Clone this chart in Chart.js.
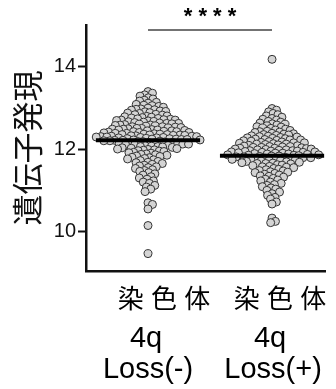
<!DOCTYPE html>
<html>
<head>
<meta charset="utf-8">
<script src="https://cdn.jsdelivr.net/npm/chart.js@4.4.1/dist/chart.umd.min.js"></script>
<style>
  html, body { margin: 0; padding: 0; background: #fff; }
  canvas { display: block; }
</style>
</head>
<body>
<canvas id="c" width="336" height="389"></canvas>
<script>
// Group labels (one entry per text line)
const groupLabels = [
  ['染 色 体', '4q', 'Loss(-)'],
  ['染 色 体', '4q', 'Loss(+)']
];
const groupPositions = [1, 2];

// Expression values per sample
const lossNegative = [
  13.39, 13.35, 13.31, 13.28,
  13.24, 13.21, 13.18, 13.16,
  13.13, 13.11, 13.08, 13.06, 13.05,
  13.03, 13.01, 12.99, 12.97, 12.96, 12.95,
  12.94, 12.92, 12.91, 12.90, 12.88, 12.87, 12.86,
  12.84, 12.83, 12.82, 12.80, 12.79, 12.78, 12.77, 12.76,
  12.75, 12.74, 12.73, 12.72, 12.71, 12.70, 12.70, 12.69, 12.68, 12.67, 12.66,
  12.65, 12.64, 12.63, 12.62, 12.62, 12.61, 12.60, 12.59, 12.58, 12.58, 12.57, 12.56,
  12.55, 12.54, 12.54, 12.53, 12.52, 12.51, 12.50, 12.50, 12.49, 12.48, 12.48, 12.47, 12.46, 12.46,
  12.45, 12.44, 12.44, 12.43, 12.42, 12.42, 12.41, 12.40, 12.40, 12.39, 12.38, 12.38, 12.37, 12.36, 12.36,
  12.35, 12.35, 12.34, 12.34, 12.33, 12.33, 12.32, 12.32, 12.31, 12.31, 12.30, 12.30, 12.29, 12.29, 12.28, 12.28, 12.27, 12.27, 12.26,
  12.25, 12.25, 12.24, 12.24, 12.23, 12.23, 12.22, 12.22, 12.21, 12.21, 12.20, 12.20, 12.19, 12.18, 12.18, 12.17, 12.16, 12.16,
  12.15, 12.14, 12.14, 12.13, 12.12, 12.12, 12.11, 12.10, 12.09, 12.08, 12.07, 12.06, 12.06,
  12.05, 12.04, 12.03, 12.02, 12.01, 12.00, 11.99, 11.98, 11.97, 11.96,
  11.95, 11.94, 11.92, 11.91, 11.90, 11.88, 11.87, 11.86,
  11.85, 11.83, 11.82, 11.80, 11.79, 11.77, 11.76,
  11.74, 11.72, 11.70, 11.68, 11.67, 11.65,
  11.63, 11.61, 11.59, 11.57, 11.55,
  11.53, 11.50, 11.48, 11.46,
  11.43, 11.40, 11.37,
  11.33, 11.30, 11.27,
  11.23, 11.20, 11.17,
  11.12, 11.08,
  11.03, 10.97,
  10.70, 10.66,
  10.55,
  10.15,
  9.47
];

const lossPositive = [
  14.17,
  12.98, 12.94, 12.90,
  12.86, 12.83, 12.80,
  12.77, 12.74, 12.72, 12.70,
  12.67, 12.65, 12.63, 12.61, 12.60,
  12.58, 12.56, 12.54, 12.53, 12.51, 12.50,
  12.48, 12.46, 12.45, 12.43, 12.42, 12.41, 12.40, 12.38,
  12.37, 12.36, 12.35, 12.34, 12.33, 12.32, 12.31, 12.30, 12.29, 12.28,
  12.27, 12.26, 12.25, 12.24, 12.23, 12.22, 12.22, 12.21, 12.20, 12.19, 12.18, 12.17,
  12.16, 12.15, 12.15, 12.14, 12.13, 12.12, 12.12, 12.11, 12.10, 12.09, 12.08, 12.07, 12.06, 12.06,
  12.05, 12.04, 12.04, 12.03, 12.02, 12.02, 12.01, 12.00, 12.00, 11.99, 11.98, 11.98, 11.97, 11.96, 11.96,
  11.95, 11.95, 11.94, 11.93, 11.93, 11.92, 11.92, 11.91, 11.90, 11.90, 11.89, 11.88, 11.88, 11.87, 11.86, 11.86, 11.85, 11.85,
  11.84, 11.83, 11.83, 11.82, 11.81, 11.81, 11.80, 11.79, 11.79, 11.78, 11.77, 11.77, 11.76, 11.75, 11.75,
  11.74, 11.73, 11.72, 11.71, 11.70, 11.69, 11.68, 11.67, 11.66, 11.65, 11.65,
  11.64, 11.62, 11.61, 11.60, 11.58, 11.57, 11.56, 11.55,
  11.53, 11.51, 11.50, 11.48, 11.47, 11.45, 11.44,
  11.43, 11.41, 11.39, 11.37, 11.35, 11.34,
  11.32, 11.29, 11.27, 11.25, 11.23,
  11.20, 11.17, 11.14, 11.12,
  11.09, 11.06, 11.03,
  11.00, 10.96,
  10.92, 10.88,
  10.83, 10.79,
  10.72, 10.67,
  10.33,
  10.25, 10.22
];

// Horizontal summary line per group
const centerLines = [12.21, 11.84];

const yTicks = [10, 12, 14];
const significance = '* * * *';

const latinFont = "'Liberation Sans', Arial, 'Noto Sans CJK JP', sans-serif";
const cjkFont = "'Noto Sans CJK JP', sans-serif";
const DOT_R = 4;
const SWARM_GAP = 4.75; // minimum centre distance used for the swarm layout (px)
const LINE_HALF = 0.42;

// Category labels under the x axis: font, baseline below the axis, sideways nudge per group
const labelLines = [
  { font: '26px ' + latinFont, dy: 37, dx: [16, 8] },
  { font: '29px ' + latinFont, dy: 76, dx: [-2, -2] },
  { font: '29px ' + latinFont, dy: 107, dx: [0, 1] }
];

const annotationPlugin = {
  id: 'annotations',
  afterDraw(chart) {
    const { ctx, scales, chartArea } = chart;
    const x1 = scales.x.getPixelForValue(groupPositions[0]);
    const x2 = scales.x.getPixelForValue(groupPositions[1]);
    ctx.save();
    // significance bracket
    const y = chartArea.top + 5;
    ctx.strokeStyle = '#444';
    ctx.lineWidth = 1.3;
    ctx.beginPath();
    ctx.moveTo(x1, y);
    ctx.lineTo(x2, y);
    ctx.stroke();
    ctx.fillStyle = '#000';
    ctx.font = 'bold 22px ' + latinFont;
    ctx.textAlign = 'center';
    ctx.textBaseline = 'alphabetic';
    ctx.fillText(significance, (x1 + x2) / 2, y - 7);
    // group labels
    groupLabels.forEach((lines, g) => {
      const cx = scales.x.getPixelForValue(groupPositions[g]);
      lines.forEach((txt, i) => {
        const spec = labelLines[i];
        ctx.font = spec.font;
        ctx.fillText(txt, cx + spec.dx[g], chartArea.bottom + spec.dy);
      });
    });
    ctx.restore();
  }
};

function pointData(values, pos) {
  return values.map(v => ({ x: pos, y: v }));
}

const chart = new Chart(document.getElementById('c'), {
  type: 'scatter',
  data: {
    datasets: [
      {
        type: 'line',
        data: [
          { x: groupPositions[0] - LINE_HALF, y: centerLines[0] },
          { x: groupPositions[0] + LINE_HALF, y: centerLines[0] }
        ],
        borderColor: '#000', borderWidth: 4, pointRadius: 0, fill: false, order: 0
      },
      {
        type: 'line',
        data: [
          { x: groupPositions[1] - LINE_HALF, y: centerLines[1] },
          { x: groupPositions[1] + LINE_HALF, y: centerLines[1] }
        ],
        borderColor: '#000', borderWidth: 4, pointRadius: 0, fill: false, order: 0
      },
      {
        data: pointData(lossNegative, groupPositions[0]),
        backgroundColor: '#d4d4d4', borderColor: '#333', borderWidth: 1,
        pointRadius: DOT_R, order: 1
      },
      {
        data: pointData(lossPositive, groupPositions[1]),
        backgroundColor: '#d4d4d4', borderColor: '#333', borderWidth: 1,
        pointRadius: DOT_R, order: 1
      }
    ]
  },
  options: {
    responsive: false,
    animation: false,
    layout: { padding: { top: 25, right: 11, left: 0, bottom: 0 } },
    plugins: { legend: { display: false }, tooltip: { enabled: false } },
    scales: {
      x: {
        type: 'linear',
        min: 0.5, max: 2.427,
        afterBuildTicks(scale) { scale.ticks = groupPositions.map(v => ({ value: v })); },
        afterFit(scale) { scale.height = 118; },
        grid: { display: false, drawTicks: false },
        border: { display: true, color: '#111', width: 2.5 },
        ticks: { display: false }
      },
      y: {
        min: 9.05, max: 15,
        afterBuildTicks(scale) { scale.ticks = yTicks.map(v => ({ value: v })); },
        afterFit(scale) { scale.width = 86; },
        grid: { drawOnChartArea: false, drawTicks: true, tickLength: 8, tickWidth: 2, tickColor: '#111' },
        border: { display: true, color: '#111', width: 2.5 },
        ticks: { padding: 2, color: '#111', font: { family: latinFont, size: 20 } },
        title: {
          display: true,
          text: '遺伝子発現',
          color: '#111',
          font: { family: cjkFont, size: 31 },
          padding: { top: 9, bottom: 0 }
        }
      }
    }
  },
  plugins: [annotationPlugin]
});

// Beeswarm layout: spread points of each group sideways so they do not pile up
function swarmOffsets(values) {
  const ys = chart.scales.y;
  const order = values.map((v, i) => i).sort((a, b) => values[b] - values[a]);
  const placed = [];
  const out = new Array(values.length);
  const d2 = SWARM_GAP * SWARM_GAP;
  for (const idx of order) {
    const y = ys.getPixelForValue(values[idx]);
    const cands = [0];
    for (const p of placed) {
      const dy = y - p.y;
      if (Math.abs(dy) < SWARM_GAP) {
        const dx = Math.sqrt(d2 - dy * dy);
        cands.push(p.x + dx, p.x - dx);
      }
    }
    cands.sort((a, b) => Math.abs(a) - Math.abs(b));
    let chosen = 0;
    for (const c of cands) {
      let ok = true;
      for (const p of placed) {
        const dx = c - p.x, dy = y - p.y;
        if (dx * dx + dy * dy < d2 - 1e-6) { ok = false; break; }
      }
      if (ok) { chosen = c; break; }
    }
    placed.push({ x: chosen, y });
    out[idx] = chosen;
  }
  return out;
}

[[lossNegative, 2, 0], [lossPositive, 3, 1]].forEach(([vals, ds, g]) => {
  const xs = chart.scales.x;
  const cx = xs.getPixelForValue(groupPositions[g]);
  const offs = swarmOffsets(vals);
  chart.data.datasets[ds].data = vals.map((v, i) => ({ x: xs.getValueForPixel(cx + offs[i]), y: v }));
});
chart.update('none');
</script>
</body>
</html>
